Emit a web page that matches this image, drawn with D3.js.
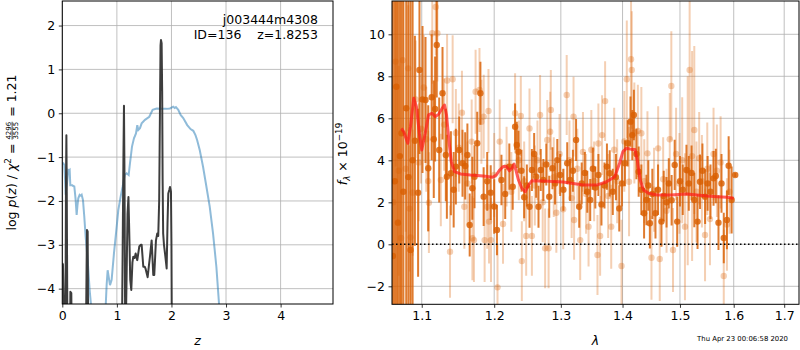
<!DOCTYPE html>
<html>
<head>
<meta charset="utf-8">
<script src="https://cdn.jsdelivr.net/npm/d3@7"></script>
<style>
  body { margin: 0; background: #fff; }
  svg { display: block; font-family: "DejaVu Sans", sans-serif; }
  .pre { white-space: pre; }
</style>
</head>
<body>
<svg id="chart" width="800" height="350"></svg>
<script>
// ---------- DATA: left panel (redshift probability) ----------
const zTicks = [0, 1, 2, 3, 4];
const pzTicks = [-4, -3, -2, -1, 0, 1, 2];
const zBlue = [0.0,0.018,0.037,0.05,0.062,0.075,0.086,0.11,0.125,0.135,0.147,0.165,0.183,0.2,0.22,0.235,0.245,0.263,0.278,0.293,0.318,0.34,0.355,0.379,0.403,0.428,0.465,0.501,0.526,0.56,0.65,0.77,0.795,0.813,0.831,0.852,0.874,0.904,0.947,0.996,1.026,1.069,1.106,1.143,1.179,1.216,1.24,1.277,1.313,1.35,1.374,1.393,1.423,1.454,1.515,1.594,1.655,1.729,1.82,1.912,1.973,2.033,2.06,2.082,2.125,2.168,2.216,2.289,2.35,2.4,2.44,2.47,2.518,2.579,2.64,2.701,2.762,2.823,2.872,2.95];
const chi2Blue = [-1.14,-1.14,-1.18,-1.5,-1.86,-1.7,-1.6,-1.29,-1.3,-1.29,-1.64,-1.64,-1.64,-1.66,-1.67,-1.85,-1.98,-2.32,-2.1,-1.94,-1.86,-1.88,-1.86,-1.98,-2.36,-2.82,-3.35,-4.03,-4.37,-5.0,-6.0,-5.0,-4.4,-3.9,-3.58,-3.75,-3.92,-3.8,-3.19,-2.59,-2.21,-1.9,-1.67,-1.41,-1.37,-1.41,-1.14,-0.76,-0.57,-0.46,-0.27,-0.38,-0.34,-0.23,-0.15,-0.08,0.08,0.11,0.1,0.1,0.11,0.15,0.12,0.14,0.08,-0.04,-0.11,-0.27,-0.36,-0.4,-0.5,-0.61,-0.84,-1.22,-1.67,-2.13,-2.74,-3.5,-4.35,-5.5];
const zBlack = [0.0,0.012,0.03,0.045,0.058,0.068,0.075,0.082,0.095,0.14,0.148,0.165,0.175,0.43,0.445,0.452,0.465,0.475,1.09,1.12,1.13,1.14,1.154,1.175,1.195,1.212,1.225,1.245,1.264,1.285,1.301,1.325,1.344,1.374,1.41,1.44,1.454,1.484,1.51,1.527,1.564,1.585,1.606,1.637,1.667,1.685,1.716,1.74,1.758,1.775,1.789,1.80,1.808,1.82,1.83,1.838,1.848,1.863,1.887,1.912,1.928,1.942,1.96,1.973,1.991,2.0,2.009,4.96];
const logpBlack = [-3.42,-3.45,-4.6,-5.5,-4.8,-1.5,-0.5,-1.8,-5.5,-5.5,-4.07,-4.1,-5.5,-5.5,-3.5,-2.66,-2.7,-5.5,-5.5,-1.0,0.17,-1.5,-5.5,-4.0,-2.3,-1.91,-2.6,-3.8,-4.03,-3.4,-3.27,-3.3,-3.2,-3.35,-3.04,-3.0,-3.0,-3.5,-3.5,-3.55,-3.74,-3.5,-3.27,-2.9,-3.69,-3.69,-2.9,-2.74,-2.8,-2.0,0.0,1.55,1.67,1.6,0.5,-1.5,-2.74,-3.0,-3.25,-3.54,-2.5,-1.83,-1.75,-1.68,-1.79,-3.0,-5.5,-5.5];

// ---------- DATA: right panel (spectrum) ----------
const lamTicks = [1.1, 1.2, 1.3, 1.4, 1.5, 1.6, 1.7];
const fluxTicks = [-2, 0, 2, 4, 6, 8, 10];
const lamDark = [1.0625,1.065,1.067,1.069,1.0715,1.0736,1.076,1.0797,1.0825,1.0853,1.088,1.091,1.0952,1.097,1.101,1.105,1.1086,1.1132,1.116,1.1178,1.12,1.1233,1.1278,1.1323,1.1337,1.1392,1.143,1.146,1.1507,1.1552,1.1589,1.162,1.1652,1.1689,1.172,1.1758,1.1803,1.1849,1.19,1.195,1.2,1.204,1.2105,1.216,1.222,1.227,1.2305,1.233,1.2355,1.24,1.244,1.248,1.252,1.2556,1.259,1.262,1.2656,1.269,1.273,1.2775,1.282,1.287,1.291,1.2945,1.299,1.304,1.31,1.3145,1.319,1.324,1.329,1.333,1.338,1.342,1.3467,1.351,1.355,1.36,1.365,1.37,1.374,1.3786,1.3837,1.389,1.3945,1.399,1.404,1.4087,1.4134,1.4165,1.4192,1.4235,1.4274,1.432,1.4367,1.4407,1.444,1.4467,1.451,1.4565,1.461,1.467,1.471,1.476,1.48,1.485,1.4905,1.495,1.5,1.505,1.5117,1.516,1.521,1.526,1.532,1.5365,1.541,1.546,1.5506,1.556,1.5617,1.566,1.571,1.5767,1.581,1.587,1.5903,1.596,1.6029];
const fluxDark = [-0.56,3.0,7.5,1.03,4.2,5.29,2.5,6.48,3.2,-0.27,4.0,4.93,2.46,8.3,6.9,6.87,3.62,7.0,5.0,6.44,9.49,4.49,7.19,4.25,3.22,3.38,2.6,3.7,4.49,3.86,3.73,4.25,0.92,2.67,3.22,4.81,7.19,2.27,3.0,2.46,1.8,0.68,3.06,2.4,3.7,2.74,5.6,4.73,4.41,3.5,2.24,2.8,1.79,3.54,4.3,3.22,1.79,3.54,3.06,3.8,2.27,3.62,2.9,4.01,3.3,2.6,3.86,3.06,3.5,4.97,1.79,2.9,3.4,2.5,2.11,3.6,2.7,3.3,1.9,2.8,3.7,3.38,2.5,3.2,1.71,2.9,3.86,4.81,5.84,5.2,6.16,4.3,3.46,2.6,1.48,2.11,2.8,1.0,2.4,1.48,2.6,1.08,2.3,2.0,2.9,2.1,3.78,1.08,3.0,2.6,3.54,2.9,3.4,2.11,1.08,2.98,3.5,2.27,2.9,2.5,3.14,3.25,1.03,2.9,0.3,1.16,3.74,2.11,3.3];
const errDark = [25,25,25,25,22,20,20,18,15,15,12,5,4,4,3.5,3,3,3,2.8,2.5,2.5,2.5,2.2,2.2,2,2,1.8,1.8,1.6,1.6,1.6,1.5,1.5,1.5,1.5,1.5,1.5,1.4,1.4,1.3,1.3,1.2,1.2,1.2,1.1,1.1,1.1,1.1,1.0,1.0,1.0,1.0,1.0,1.0,1.0,1.0,1.0,1.0,1.0,1.0,1.0,1.0,1.0,1.0,1.0,1.0,1.0,1.0,1.0,1.0,1.0,1.0,1.0,1.0,1.0,1.0,1.0,1.0,1.0,1.1,1.1,1.1,1.1,1.1,1.1,1.1,1.1,1.1,1.2,1.2,1.2,1.2,1.2,1.2,1.2,1.2,1.2,1.2,1.2,1.2,1.2,1.2,1.2,1.2,1.2,1.2,1.2,1.2,1.2,1.2,1.2,1.3,1.3,1.3,1.3,1.3,1.3,1.3,1.3,1.3,1.3,1.3,1.3,1.4,1.2,1.4,1.4,1.6,0.1];
const lamLight = [1.063,1.066,1.07,1.073,1.0753,1.079,1.0822,1.084,1.0853,1.088,1.092,1.096,1.099,1.1027,1.106,1.1086,1.1095,1.114,1.1186,1.1209,1.1255,1.13,1.134,1.138,1.1416,1.146,1.15,1.1544,1.1577,1.162,1.168,1.169,1.1712,1.1735,1.179,1.1817,1.185,1.1863,1.19,1.1918,1.1926,1.1954,1.2,1.2048,1.208,1.2128,1.218,1.225,1.2305,1.236,1.239,1.2405,1.244,1.247,1.252,1.2556,1.26,1.264,1.268,1.272,1.2757,1.279,1.281,1.2834,1.2845,1.289,1.293,1.298,1.3037,1.3092,1.3135,1.317,1.32,1.3209,1.326,1.3306,1.335,1.34,1.344,1.3485,1.353,1.3585,1.36,1.3628,1.366,1.371,1.376,1.3811,1.386,1.391,1.3983,1.403,1.4072,1.411,1.4144,1.4156,1.42,1.426,1.432,1.437,1.4425,1.4495,1.454,1.4612,1.464,1.47,1.476,1.4817,1.4845,1.4875,1.493,1.499,1.504,1.509,1.514,1.5175,1.522,1.526,1.53,1.535,1.54,1.5458,1.55,1.555,1.5617,1.568,1.575,1.581,1.587,1.592];
const fluxLight = [2.0,8.7,3.5,0.3,8.77,3.6,8.38,1.7,0.33,2.46,6.9,3.9,5.5,7.47,5.0,3.01,1.98,10.05,11.3,10.05,3.06,5.7,7.8,-0.35,7.86,5.3,4.6,6.27,1.79,2.9,4.89,0.29,0.2,7.27,7.35,5.84,6.08,0.2,1.79,6.35,1.08,0.2,3.3,-2.05,4.89,0.97,3.7,2.5,6.24,4.0,6.11,-0.8,3.0,0.4,5.52,0.4,2.8,4.0,6.16,2.0,-0.19,4.97,-0.19,5.36,6.4,3.2,1.5,4.3,1.67,7.11,4.0,2.2,6.08,1.16,3.6,0.2,4.4,2.4,0.84,4.5,3.0,-0.51,4.8,0.4,5.2,6.82,2.3,0.84,4.5,3.0,-1.03,4.9,7.86,2.98,8.81,8.3,5.3,5.4,5.29,3.0,4.33,-0.64,2.6,4.57,-0.7,3.1,1.6,5.0,7.54,-0.27,4.3,2.9,4.0,0.84,3.5,8.3,4.2,5.44,2.5,4.1,3.0,0.44,3.6,1.2,4.3,3.5,3.9,-1.51,0.94,2.5];
const errLight = [6,5,5,4,3.5,3,3,3,3,3,2.8,2.8,2.6,2.5,2.5,2.4,2.4,2.4,2.3,2.3,2.2,2.2,2.2,2.2,2.1,2.1,2.1,2.0,2.0,2.0,2.0,2.0,2.0,2.0,2.0,2.0,2.0,2.0,2.0,2.0,2.0,2.0,2.0,2.0,2.0,1.9,1.9,1.9,1.9,1.9,1.9,1.9,1.9,1.9,1.9,1.9,1.9,1.9,1.9,1.9,1.9,1.9,1.9,1.9,1.9,1.9,1.9,1.9,1.9,1.9,1.9,1.9,1.9,1.9,1.9,1.9,1.9,1.9,1.9,1.9,1.9,1.9,1.9,1.9,1.9,1.9,2.0,2.0,2.0,2.0,2.2,2.4,2.8,2.6,2.8,2.8,2.4,2.2,2.2,2.0,2.0,2.0,2.0,2.0,2.0,2.0,2.0,2.2,2.6,2.0,2.2,2.4,3,3.5,4.5,6,5,4,2.4,2.2,2.2,2.2,2.2,2.2,2.2,2.2,2.2,2.2,2.2,2.0];
const lamModel = [1.0735,1.0765,1.0817,1.0852,1.0895,1.093,1.0969,1.1,1.1046,1.109,1.1137,1.1182,1.1227,1.1274,1.1305,1.1332,1.1364,1.1397,1.1442,1.1524,1.1661,1.1843,1.198,1.203,1.208,1.213,1.218,1.222,1.2255,1.229,1.232,1.2355,1.2405,1.2455,1.2505,1.2556,1.273,1.3037,1.3354,1.357,1.3735,1.387,1.395,1.4006,1.4065,1.4153,1.421,1.425,1.43,1.4357,1.4445,1.459,1.483,1.5124,1.531,1.5495,1.5683,1.5875,1.6];
const fluxModel = [5.52,5.36,4.81,5.6,6.95,6.55,5.29,4.49,5.29,6.16,6.24,6.08,6.2,6.48,6.63,6.16,4.97,3.93,3.46,3.35,3.3,3.25,3.19,3.3,3.54,3.7,3.7,3.5,3.6,3.82,3.5,3.06,2.67,2.5,2.82,3.03,3.01,2.97,2.82,2.82,2.98,3.22,3.86,4.41,4.57,4.52,4.52,4.01,3.06,2.59,2.43,2.35,2.35,2.4,2.35,2.3,2.27,2.24,2.19];

const objName = "j003444m4308";
const objInfo = "ID=136    z=1.8253";
const stamp = "Thu Apr 23 00:06:58 2020";

// ---------- LAYOUT ----------
const svg = d3.select("#chart");
const FS = 12.5;
const L = {x0: 62.3, x1: 333, y0: 1, y1: 304};
const R = {x0: 392, x1: 799, y0: 1, y1: 304.3};

const xL = d3.scaleLinear().domain([0, 4.96]).range([L.x0, L.x1]);
const yL = d3.scaleLinear().domain([-4.35, 2.56]).range([L.y1, L.y0]);
const xR = d3.scaleLog().domain([1.0614, 1.7305]).range([R.x0, R.x1]);
const yR = d3.scaleLinear().domain([-2.857, 11.586]).range([R.y1, R.y0]);

const defs = svg.append("defs");
function clip(id, b) {
  defs.append("clipPath").attr("id", id).append("rect")
    .attr("x", b.x0).attr("y", b.y0).attr("width", b.x1 - b.x0).attr("height", b.y1 - b.y0);
}
clip("clipL", L); clip("clipR", R);

function grid(b, xs, ys, xt, yt) {
  const g = svg.append("g").attr("stroke", "#b0b0b0").attr("stroke-width", 0.8);
  xt.forEach(t => g.append("line").attr("x1", xs(t)).attr("x2", xs(t)).attr("y1", b.y0).attr("y2", b.y1));
  yt.forEach(t => g.append("line").attr("x1", b.x0).attr("x2", b.x1).attr("y1", ys(t)).attr("y2", ys(t)));
}
grid(L, xL, yL, zTicks, pzTicks);
grid(R, xR, yR, lamTicks, fluxTicks);

function axes(b, xs, ys, xt, yt, xfmt, yfmt) {
  const ax = svg.append("g").attr("transform", `translate(0,${b.y1})`)
    .call(d3.axisBottom(xs).tickValues(xt).tickFormat(xfmt).tickSize(3.5).tickPadding(3.5));
  const ay = svg.append("g").attr("transform", `translate(${b.x0},0)`)
    .call(d3.axisLeft(ys).tickValues(yt).tickFormat(yfmt).tickSize(3.5).tickPadding(3.5));
  [ax, ay].forEach(a => {
    a.select(".domain").remove();
    a.selectAll("line").attr("stroke", "#000").attr("stroke-width", 0.8);
    a.selectAll("text").attr("font-size", FS).attr("font-family", "DejaVu Sans").attr("fill", "#000");
  });
}
const minus = s => String(s).replace("-", "\u2212");
axes(L, xL, yL, zTicks, pzTicks, d => minus(d), d => minus(d));
axes(R, xR, yR, lamTicks, fluxTicks, d3.format(".1f"), d => minus(d));

// ---------- LEFT PANEL LINES ----------
const gL = svg.append("g").attr("clip-path", "url(#clipL)");
const lineL = d3.line().x(d => xL(d[0])).y(d => yL(d[1]));
gL.append("path").datum(d3.zip(zBlue, chi2Blue)).attr("d", lineL)
  .attr("fill", "none").attr("stroke", "#1f77b4").attr("stroke-opacity", 0.5).attr("stroke-width", 2);
gL.append("path").datum(d3.zip(zBlack, logpBlack)).attr("d", lineL)
  .attr("fill", "none").attr("stroke", "#333").attr("stroke-opacity", 0.95).attr("stroke-width", 2)
  .attr("stroke-linejoin", "round");

svg.append("text").attr("x", 318).attr("y", 24).attr("text-anchor", "end")
  .attr("font-size", FS).text(objName);
svg.append("text").attr("class", "pre").attr("x", 318).attr("y", 38.5).attr("text-anchor", "end")
  .attr("font-size", FS).text(objInfo);

// ---------- RIGHT PANEL ----------
const gR = svg.append("g").attr("clip-path", "url(#clipR)");
const ORANGE = "#d95f02";
function errSet(lam, flux, err, op) {
  const g = gR.append("g").attr("opacity", 1);
  const data = d3.zip(lam, flux, err);
  g.selectAll("line").data(data).join("line")
    .attr("x1", d => xR(d[0])).attr("x2", d => xR(d[0]))
    .attr("y1", d => yR(d[1] - d[2])).attr("y2", d => yR(d[1] + d[2]))
    .attr("stroke", ORANGE).attr("stroke-opacity", op).attr("stroke-width", 2);
  g.selectAll("circle").data(data).join("circle")
    .attr("cx", d => xR(d[0])).attr("cy", d => yR(d[1])).attr("r", 3.2)
    .attr("fill", ORANGE).attr("fill-opacity", op);
}
errSet(lamLight, fluxLight, errLight, 0.3);
errSet(lamDark, fluxDark, errDark, 0.82);

gR.append("path").datum(d3.zip(lamModel, fluxModel))
  .attr("d", d3.line().x(d => xR(d[0])).y(d => yR(d[1])))
  .attr("fill", "none").attr("stroke", "#ff1a1a").attr("stroke-opacity", 0.7).attr("stroke-width", 3)
  .attr("stroke-linejoin", "round");
gR.append("line").attr("x1", R.x0).attr("x2", R.x1).attr("y1", yR(0)).attr("y2", yR(0))
  .attr("stroke", "#000").attr("stroke-width", 1.5).attr("stroke-dasharray", "1.5,2.5");

// spines
[L, R].forEach(b => svg.append("rect").attr("x", b.x0).attr("y", b.y0)
  .attr("width", b.x1 - b.x0).attr("height", b.y1 - b.y0)
  .attr("fill", "none").attr("stroke", "#000").attr("stroke-width", 1));

// ---------- MATH LABELS ----------
function mathLabel(cx, cy, rot, parts) {
  const outer = svg.append("g").attr("transform", `translate(${cx},${cy}) rotate(${rot})`);
  const g = outer.append("g");
  let x = 0;
  parts.forEach(p => {
    if (p.frac) {
      const fs = 7;
      const a = g.append("text").attr("x", x).attr("y", -1.7).attr("font-size", fs).text(p.frac[0]);
      const bT = g.append("text").attr("x", x).attr("y", 4.8).attr("font-size", fs).text(p.frac[1]);
      const w = Math.max(a.node().getComputedTextLength(), bT.node().getComputedTextLength());
      g.append("line").attr("x1", x).attr("x2", x + w).attr("y1", -0.9).attr("y2", -0.9)
        .attr("stroke", "#000").attr("stroke-width", 0.7);
      x += w + 1;
      return;
    }
    const fs = p.size || FS;
    const t = g.append("text").attr("class", "pre").attr("x", x).attr("y", p.dy || 0)
      .attr("font-size", fs).attr("font-style", p.it ? "italic" : "normal").text(p.t);
    x += t.node().getComputedTextLength();
  });
  g.attr("transform", `translate(${-x / 2},0)`);
}
mathLabel(13, 152.5, -90, [
  {t: "log "}, {t: "p", it: true}, {t: "("}, {t: "z", it: true}, {t: ") / "},
  {t: "\u03c7", it: true}, {t: "2", size: 8.8, dy: -5}, {t: " = "},
  {frac: ["4296", "3555"]}, {t: " = 1.21"}
].map(p => p.frac ? p : Object.assign({}, p, {dy: (p.dy || 0) + 3})));

mathLabel(347, 154, -90, [
  {t: "f", it: true}, {t: "\u03bb", it: true, size: 8.8, dy: 2.5}, {t: " \u00d7 10"},
  {t: "\u221219", size: 8.8, dy: -5}
].map(p => Object.assign({}, p, {dy: (p.dy || 0) + 0})));

svg.append("text").attr("x", (L.x0 + L.x1) / 2).attr("y", 345).attr("text-anchor", "middle")
  .attr("font-size", FS).attr("font-style", "italic").text("z");
svg.append("text").attr("x", (R.x0 + R.x1) / 2).attr("y", 345).attr("text-anchor", "middle")
  .attr("font-size", FS).attr("font-style", "italic").text("\u03bb");

svg.append("text").attr("x", 788).attr("y", 341).attr("text-anchor", "end")
  .attr("font-size", 6.9).text(stamp);
</script>
</body>
</html>
